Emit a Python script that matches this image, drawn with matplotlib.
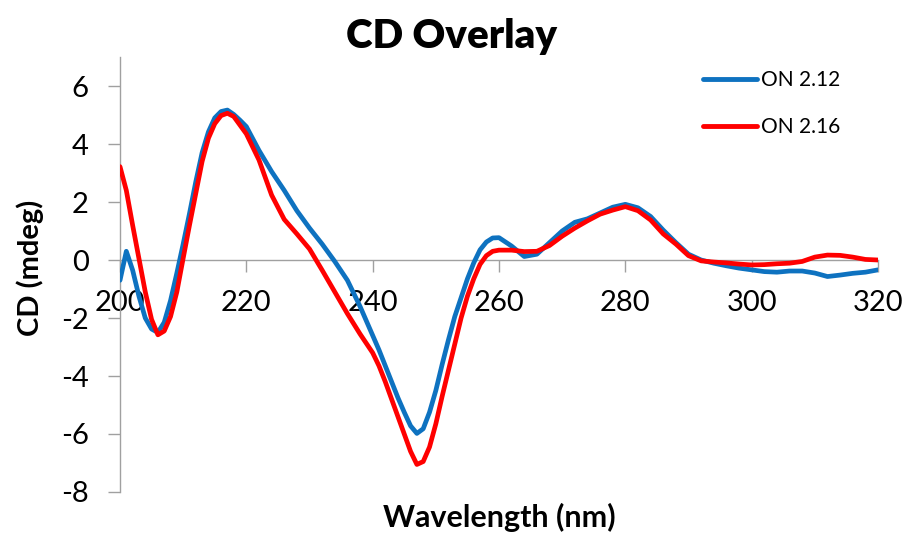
import matplotlib
matplotlib.use("Agg")
import matplotlib.pyplot as plt

wavelength = [200, 201, 202, 203, 204, 205, 206, 207, 208, 209, 210, 211, 212, 213, 214,
              215, 216, 217, 218, 219, 220, 222, 224, 226, 228, 230, 232, 234, 236, 238,
              240, 241, 242, 243, 244, 245, 246, 247, 248, 249, 250, 251, 252, 253, 254,
              255, 256, 257, 258, 259, 260, 262, 264, 266, 268, 270, 272, 274, 276, 278,
              280, 282, 284, 286, 288, 290, 292, 294, 296, 298, 300, 302, 304, 306, 308,
              310, 312, 314, 316, 318, 320]

cd_on_212 = [-0.7, 0.3, -0.35, -1.25, -2.0, -2.38, -2.5, -2.15, -1.4, -0.45, 0.55, 1.6, 2.7, 3.7, 4.42,
             4.9, 5.12, 5.17, 5.02, 4.82, 4.6, 3.78, 3.05, 2.4, 1.7, 1.1, 0.55, -0.05, -0.7, -1.6,
             -2.6, -3.1, -3.65, -4.2, -4.75, -5.25, -5.72, -5.98, -5.82, -5.25, -4.5, -3.6, -2.75, -1.95, -1.3,
             -0.65, -0.1, 0.35, 0.62, 0.76, 0.77, 0.48, 0.12, 0.2, 0.6, 1.0, 1.3, 1.42, 1.62, 1.82,
             1.92, 1.8, 1.5, 1.03, 0.6, 0.2, 0.0, -0.11, -0.2, -0.28, -0.34, -0.4, -0.42, -0.38, -0.38,
             -0.45, -0.57, -0.52, -0.46, -0.42, -0.34]

cd_on_216 = [3.22, 2.4, 1.2, 0.05, -1.1, -2.05, -2.58, -2.45, -1.95, -1.1, 0.06, 1.2, 2.3, 3.4, 4.2,
             4.7, 4.98, 5.06, 4.95, 4.65, 4.35, 3.45, 2.24, 1.4, 0.9, 0.38, -0.35, -1.1, -1.85, -2.55,
             -3.2, -3.65, -4.2, -4.8, -5.4, -6.0, -6.6, -7.05, -6.95, -6.45, -5.65, -4.7, -3.8, -2.9, -2.0,
             -1.25, -0.65, -0.15, 0.15, 0.3, 0.34, 0.34, 0.29, 0.3, 0.5, 0.82, 1.1, 1.35, 1.58, 1.72,
             1.84, 1.7, 1.38, 0.9, 0.55, 0.15, -0.03, -0.07, -0.1, -0.14, -0.17, -0.16, -0.13, -0.11, -0.05,
             0.1, 0.17, 0.16, 0.1, 0.02, 0.0]

series_labels = ["ON 2.12", "ON 2.16"]
x_ticks = [200, 220, 240, 260, 280, 300, 320]
y_ticks = [-8, -6, -4, -2, 0, 2, 4, 6]

plt.rcParams['font.family'] = ['Lato', 'DejaVu Sans']
plt.rcParams['axes.unicode_minus'] = False

W, H = 909, 535
fig = plt.figure(figsize=(W / 100, H / 100), dpi=100)
ax = fig.add_axes([120 / W, 1 - 492 / H, (878 - 120) / W, (492 - 57) / H])

ax.plot(wavelength, cd_on_212, color='#0E72C0', lw=3.4, label=series_labels[0],
        solid_joinstyle='round', solid_capstyle='round', zorder=3)
ax.plot(wavelength, cd_on_216, color='#FF0000', lw=3.4, label=series_labels[1],
        solid_joinstyle='round', solid_capstyle='round', zorder=4)

ax.set_xlim(200, 320)
ax.set_ylim(-8, 7)
ax.set_xticks(x_ticks)
ax.set_yticks(y_ticks)

for s in ['top', 'right']:
    ax.spines[s].set_visible(False)
ax.spines['bottom'].set_position(('data', 0))
for s in ['left', 'bottom']:
    ax.spines[s].set_color('#A0A0A0')
    ax.spines[s].set_linewidth(1.0)

ax.tick_params(axis='both', direction='out', length=8.5, width=1.0, color='#A0A0A0',
               labelsize=21, labelcolor='black')
ax.tick_params(axis='x', pad=13)
ax.tick_params(axis='y', pad=14)

fig.text(451 / W, 1 - 48 / H, "CD Overlay", ha='center', va='baseline',
         fontsize=29, fontweight='heavy')
fig.text(499 / W, 1 - 527 / H, "Wavelength (nm)", ha='center', va='baseline',
         fontsize=22, fontweight='bold')
fig.text(30 / W, 1 - 268 / H, "CD (mdeg)", ha='center', va='center', rotation=90,
         fontsize=21, fontweight='bold')

leg = ax.legend(loc='upper left', bbox_to_anchor=(703 / W, 1 - 70 / H),
                bbox_transform=fig.transFigure, frameon=False, fontsize=15,
                handlelength=2.6, handletextpad=0.2, labelspacing=1.3, borderpad=0,
                borderaxespad=0)
for line in leg.get_lines():
    line.set_linewidth(3.5)
    line.set_solid_capstyle('round')

fig.savefig("out.png", dpi=100)
